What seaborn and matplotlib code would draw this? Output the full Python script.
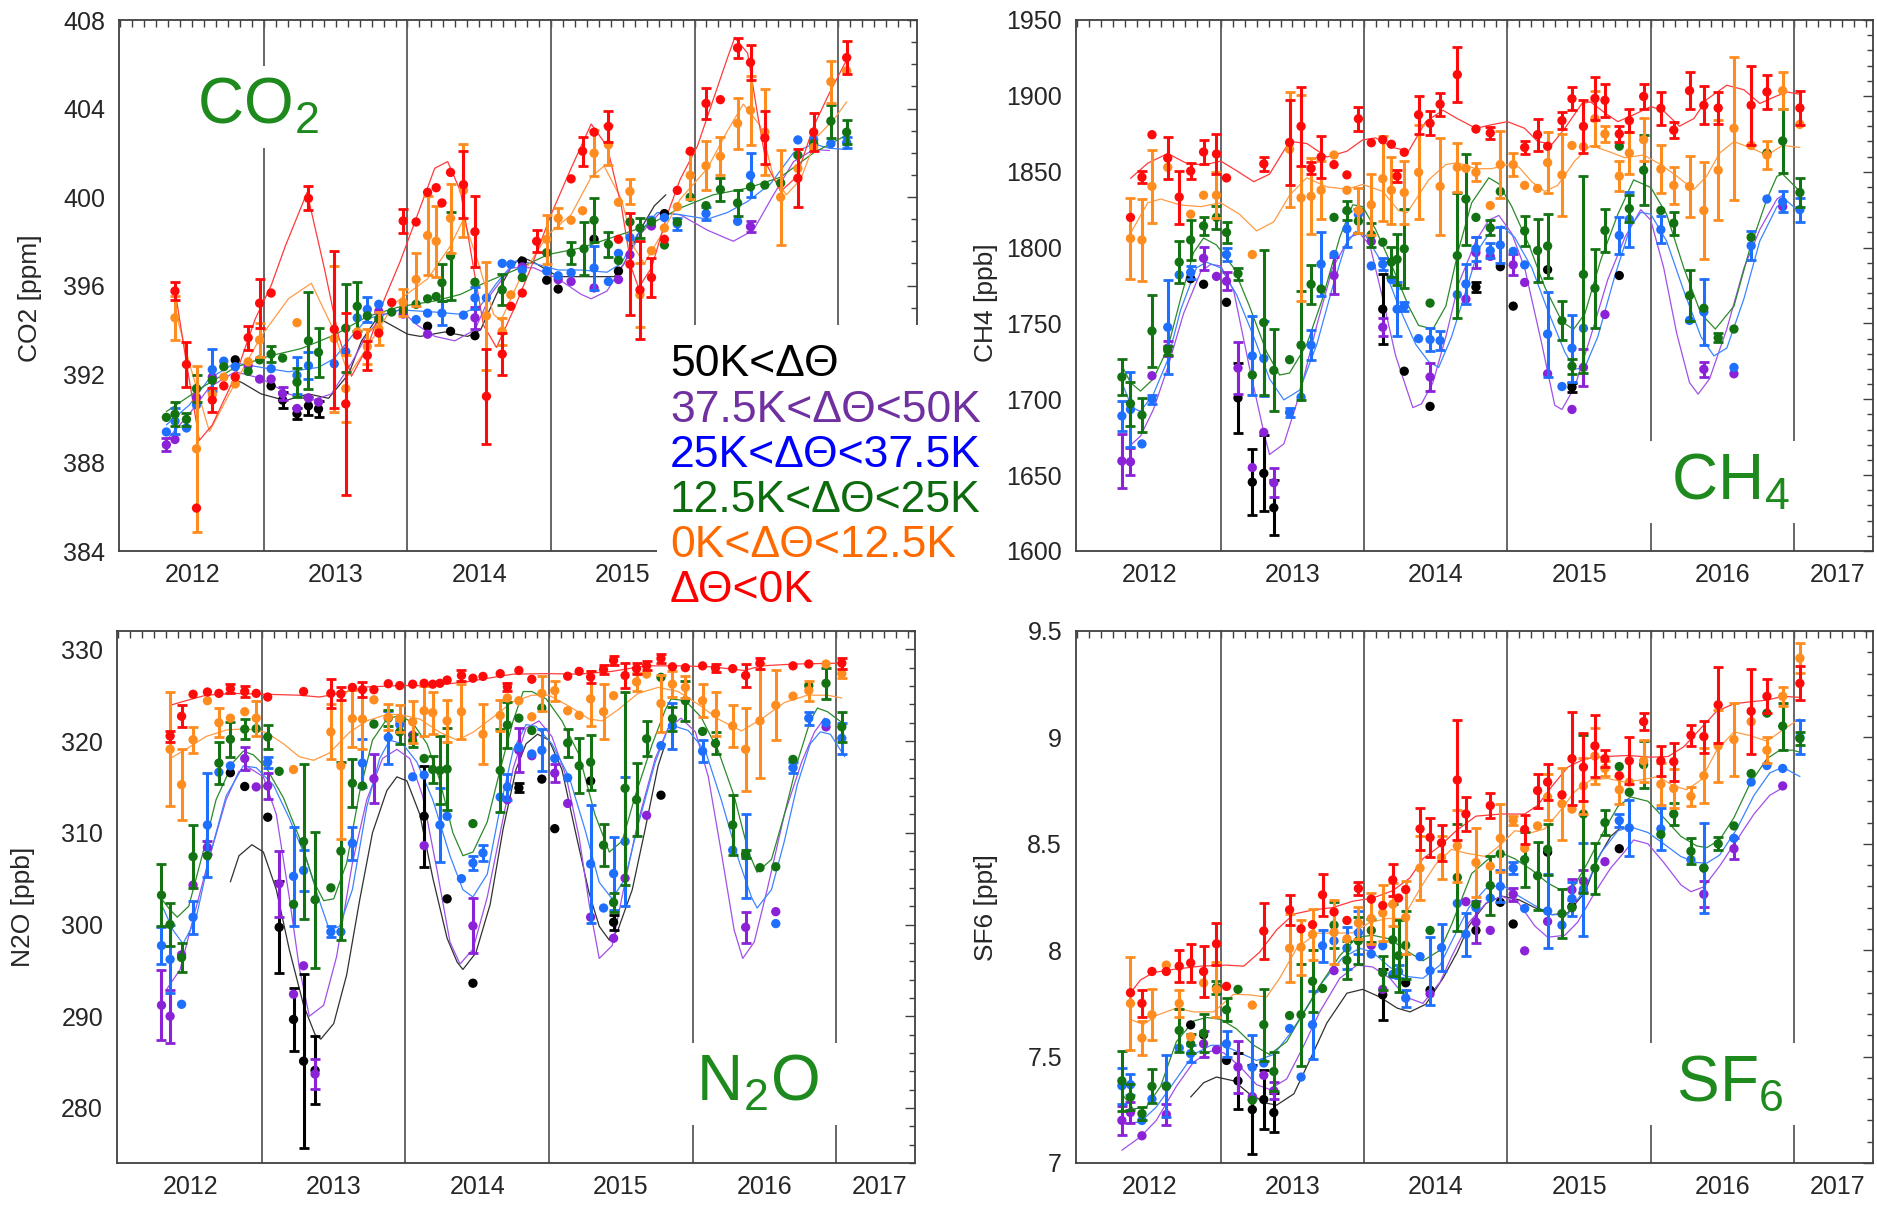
import numpy as np
import pandas as pd
import seaborn as sns
import matplotlib
matplotlib.use('Agg')
import matplotlib.pyplot as plt
from matplotlib.ticker import MultipleLocator, FuncFormatter
from matplotlib.patches import Rectangle

# points: (decimal year, value, error)  error 0 -> no bar
# fits: (decimal year, value)

# ---------------- CO2 [ppm]
co2_black = [(2012.30,392.64,0),(2012.55,391.46,0),(2012.63,390.82,0.35),(2012.73,390.21,0.25),(2012.81,390.56,0.4),
             (2012.88,390.42,0.35),(2013.64,394.16,0),(2013.80,393.93,0),(2013.97,393.73,0),(2014.30,397.10,0),
             (2014.47,396.24,0),(2014.55,395.84,0),(2014.80,398.09,0),(2014.97,396.65,0),(2015.29,399.25,0)]
co2_black_fit = [(2012.28,391.8),(2012.35,391.6),(2012.48,391.1),(2012.65,390.8),(2012.81,391.1),(2012.95,390.9),
                 (2013.09,392.0),(2013.18,393.5),(2013.29,394.55),(2013.39,394.2),(2013.50,393.8),(2013.59,393.7),
                 (2013.76,393.9),(2013.92,393.7),(2014.01,394.0),(2014.12,395.6),(2014.22,396.8),(2014.29,397.3),
                 (2014.38,397.05),(2014.55,396.4),(2014.68,396.4),(2014.80,396.4),(2014.94,396.4),(2015.01,397.0),
                 (2015.12,398.5),(2015.22,399.6),(2015.30,400.1)]
co2_purple = [(2011.82,388.8,0.3),(2011.88,389.04,0),(2012.03,390.94,0),(2012.14,391.86,0),(2012.39,392.38,0),
              (2012.47,391.77,0),(2012.55,391.77,0),(2012.63,391.11,0.3),(2012.73,390.44,0),(2012.81,390.91,0),
              (2012.88,390.73,0),(2013.30,394.83,0),(2013.47,394.71,0),(2013.64,393.80,0),(2013.97,394.54,0.5),
              (2014.30,396.84,0),(2014.55,396.27,0),(2014.64,396.18,0),(2014.80,395.89,0),(2014.97,396.27,0),
              (2015.05,397.39,0),(2015.20,398.69,0),(2015.89,398.66,0.25)]
co2_purple_fit = [(2011.82,389.0),(2011.98,390.2),(2012.12,391.4),(2012.30,392.1),(2012.48,391.8),(2012.67,391.1),
                  (2012.83,390.8),(2012.97,391.1),(2013.11,392.5),(2013.22,393.8),(2013.34,394.7),(2013.45,394.9),
                  (2013.57,394.2),(2013.69,393.7),(2013.83,393.5),(2013.97,394.0),(2014.08,395.6),(2014.22,396.8),
                  (2014.38,396.8),(2014.55,396.3),(2014.71,395.6),(2014.78,395.4),(2014.89,395.75),(2015.01,397.0),
                  (2015.12,398.3),(2015.26,399.3),(2015.40,399.2),(2015.59,398.5),(2015.77,398.0),(2015.91,398.5),
                  (2016.05,400.1),(2016.19,401.6),(2016.33,402.15),(2016.44,402.1)]
co2_blue = [(2011.82,389.38,0),(2011.88,389.87,0.6),(2011.96,389.56,0),(2012.03,390.60,0),(2012.14,392.20,0.95),
            (2012.22,392.58,0),(2012.30,392.33,0),(2012.55,392.24,0),(2012.73,391.94,0.85),(2012.81,392.38,0.6),
            (2012.99,392.46,0),(2013.07,393.01,0),(2013.15,394.54,0),(2013.22,394.92,0.55),(2013.30,395.15,0),
            (2013.56,394.46,0),(2013.64,394.75,0),(2013.74,394.75,0.55),(2013.89,394.66,0),(2013.97,395.44,0.5),
            (2014.05,395.44,0),(2014.16,397.0,0),(2014.22,396.96,0),(2014.30,396.70,0),(2014.47,396.65,0),
            (2014.55,396.44,0),(2014.64,396.58,0),(2014.80,396.79,1.0),(2014.90,396.18,0),(2014.97,397.45,0),
            (2015.05,398.17,0),(2015.20,398.95,0),(2015.29,399.07,0),(2015.38,398.78,0.25),(2015.58,399.25,0.3),
            (2015.80,398.90,0),(2015.89,400.98,1.0),(2016.22,402.58,0),(2016.33,402.58,0),(2016.45,402.41,0),
            (2016.56,402.46,0.25)]
co2_blue_fit = [(2011.82,389.7),(2011.98,390.6),(2012.12,391.8),(2012.30,392.5),(2012.48,392.3),(2012.67,392.1),
                (2012.88,392.3),(2012.99,392.7),(2013.11,393.7),(2013.22,394.5),(2013.45,394.9),(2013.69,394.8),
                (2013.87,394.7),(2014.01,395.1),(2014.12,396.1),(2014.25,397.1),(2014.38,397.0),(2014.55,396.7),
                (2014.71,396.7),(2014.89,396.6),(2014.99,397.0),(2015.10,398.3),(2015.24,399.3),(2015.40,399.2),
                (2015.59,399.0),(2015.73,399.3),(2015.87,399.8),(2016.03,400.6),(2016.19,402.0),(2016.33,402.4),
                (2016.44,402.2),(2016.56,402.15)]
co2_green = [(2011.82,390.04,0),(2011.88,390.18,0.55),(2011.96,389.95,0.3),(2012.03,391.34,0.6),(2012.14,391.72,0),
             (2012.22,392.33,0),(2012.39,392.12,0),(2012.47,392.64,0),(2012.55,392.90,0.35),(2012.63,392.72,0),
             (2012.73,391.63,0.65),(2012.81,393.50,2.2),(2012.88,392.98,1.1),(2013.07,394.07,2.0),(2013.15,395.06,1.1),
             (2013.22,394.63,0),(2013.30,394.49,0),(2013.39,394.80,0),(2013.47,394.89,0),(2013.56,395.15,0),
             (2013.64,395.40,0),(2013.70,395.50,0),(2013.74,396.13,0.85),(2013.80,397.34,2.0),(2013.97,396.15,0),
             (2014.16,395.80,0.7),(2014.30,396.36,0),(2014.47,397.48,0),(2014.64,397.48,0.5),(2014.73,397.66,1.2),
             (2014.80,398.95,1.0),(2014.90,397.86,0.55),(2014.97,397.13,0),(2015.05,398.87,0),(2015.12,398.60,0.45),
             (2015.20,398.87,0),(2015.29,397.83,0),(2015.38,398.87,0),(2015.47,399.99,0),(2015.58,399.61,0),
             (2015.68,400.34,0.5),(2015.80,399.73,0.6),(2015.89,400.46,0),(2015.99,400.54,0),(2016.10,400.63,0),
             (2016.22,401.89,0),(2016.33,402.41,0),(2016.45,403.43,0.75),(2016.56,402.93,0.55)]
co2_green_fit = [(2011.82,390.3),(2012.07,391.4),(2012.30,392.3),(2012.53,392.8),(2012.76,393.15),(2012.99,393.76),
                 (2013.22,394.6),(2013.45,395.05),(2013.69,395.3),(2013.87,395.6),(2014.03,396.1),(2014.25,396.7),
                 (2014.48,397.4),(2014.71,397.7),(2014.94,398.2),(2015.17,398.7),(2015.40,399.5),(2015.63,400.1),
                 (2015.87,400.4),(2016.10,400.9),(2016.33,402.0),(2016.56,402.8)]
co2_orange = [(2011.88,394.54,1.0),(2012.03,388.62,3.75),(2012.14,391.08,0),(2012.22,391.86,0),(2012.30,391.55,0),
              (2012.39,392.55,0),(2012.47,393.54,0.75),(2012.73,394.32,0),(2012.99,393.60,3.3),(2013.07,391.34,1.5),
              (2013.15,393.90,0),(2013.22,393.24,0.8),(2013.30,394.05,0.75),(2013.47,395.23,0.6),(2013.56,396.27,1.2),
              (2013.64,398.26,1.8),(2013.70,398.00,1.6),(2013.80,399.04,1.55),(2013.89,400.30,2.1),(2014.05,394.63,2.45),
              (2014.16,393.93,0.6),(2014.22,395.58,0),(2014.47,398.09,1.1),(2014.55,399.04,0.45),(2014.64,398.95,0),
              (2014.72,399.38,0),(2014.80,401.98,1.05),(2014.90,402.36,0.9),(2014.97,399.76,0),(2015.05,400.25,0.55),
              (2015.12,395.58,1.45),(2015.20,397.57,0),(2015.29,398.60,0),(2015.38,399.56,0),(2015.47,400.98,1.05),
              (2015.58,401.41,1.1),(2015.68,401.84,0.85),(2015.80,403.33,1.15),(2015.89,403.92,1.55),(2015.99,402.93,1.95),
              (2016.10,399.99,2.15),(2016.22,401.29,0),(2016.33,402.24,0),(2016.45,405.21,0.95),(2016.56,405.70,0)]
co2_orange_fit = [(2011.88,394.9),(2011.98,392.5),(2012.12,389.4),(2012.30,391.6),(2012.48,393.7),(2012.67,395.4),
                  (2012.83,396.1),(2012.97,394.2),(2013.09,391.95),(2013.22,393.2),(2013.41,395.2),(2013.64,396.3),
                  (2013.80,397.8),(2013.89,399.0),(2013.99,397.1),(2014.10,394.7),(2014.15,394.4),(2014.29,396.4),
                  (2014.48,398.3),(2014.64,399.2),(2014.78,400.9),(2014.87,401.4),(2014.99,399.9),(2015.08,397.7),
                  (2015.15,397.0),(2015.26,398.2),(2015.40,399.9),(2015.59,401.3),(2015.73,403.0),(2015.84,404.2),
                  (2015.96,403.2),(2016.05,400.9),(2016.14,400.1),(2016.24,400.8),(2016.35,402.7),(2016.47,403.5),
                  (2016.56,404.3)]
co2_red = [(2011.88,395.75,0.4),(2011.96,392.43,1.0),(2012.03,385.94,0),(2012.14,390.82,0.55),(2012.22,391.46,0),
           (2012.30,391.86,0),(2012.39,393.64,0.55),(2012.47,395.20,1.1),(2012.55,395.66,0),(2012.81,399.94,0.55),
           (2012.99,394.02,3.55),(2013.07,390.65,4.1),(2013.15,393.76,0),(2013.22,392.84,0.65),(2013.30,393.85,0),
           (2013.39,395.23,0),(2013.47,398.92,0.55),(2013.56,398.87,0),(2013.64,400.21,0),(2013.70,400.42,0),
           (2013.74,399.73,0),(2013.80,401.11,0),(2013.89,400.56,1.5),(2013.97,398.43,1.6),(2014.05,390.99,2.15),
           (2014.16,392.90,0.95),(2014.22,395.06,0),(2014.30,395.66,0),(2014.40,398.00,0.5),(2014.64,400.82,0),
           (2014.72,402.07,0.65),(2014.80,402.93,0),(2014.90,403.19,0.7),(2014.97,398.09,0),(2015.05,396.96,2.3),
           (2015.12,395.80,2.2),(2015.20,396.36,0.9),(2015.29,398.09,0),(2015.38,400.30,0),(2015.47,402.07,0),
           (2015.58,404.23,0.7),(2015.68,404.40,0),(2015.80,406.74,0.45),(2015.89,406.08,0.8),(2015.99,402.67,1.2),
           (2016.22,400.85,1.3),(2016.33,402.93,0.85),(2016.56,406.30,0.75)]
co2_red_fit = [(2011.88,395.8),(2011.96,392.5),(2012.05,389.0),(2012.14,389.7),(2012.30,391.9),(2012.44,394.5),
               (2012.55,396.0),(2012.65,397.8),(2012.80,400.2),(2012.92,396.8),(2013.02,393.7),(2013.11,391.9),
               (2013.22,393.2),(2013.34,395.4),(2013.45,397.1),(2013.57,399.2),(2013.69,401.3),(2013.78,401.6),
               (2013.87,400.25),(2013.96,396.8),(2014.03,394.2),(2014.12,393.2),(2014.25,395.06),(2014.36,396.8),
               (2014.50,399.2),(2014.64,401.3),(2014.78,403.3),(2014.89,402.3),(2014.99,399.6),(2015.06,396.8),
               (2015.11,395.9),(2015.20,396.8),(2015.31,399.2),(2015.40,400.8),(2015.52,402.3),(2015.63,404.4),
               (2015.73,406.3),(2015.78,407.2),(2015.87,406.5),(2015.94,403.7),(2016.00,401.5),(2016.10,400.25),
               (2016.21,400.9),(2016.33,403.2),(2016.44,404.7),(2016.56,406.2)]

# ---------------- CH4 [ppb]
ch4_black = [(2012.29,1779.5,0),(2012.38,1775.8,0),(2012.54,1763.9,0),(2012.62,1700.9,23),(2012.72,1645.4,22),
             (2012.80,1651.2,25),(2012.87,1628.5,18),(2013.63,1759.4,23),(2013.78,1718.5,0),(2013.96,1695.3,0),
             (2014.28,1774.0,3),(2014.45,1787.4,0),(2014.54,1761.4,0),(2014.78,1785.4,0),(2014.95,1708.0,3),
             (2015.28,1781.6,0)]
ch4_black_fit = []
ch4_purple = [(2011.81,1659.3,18),(2011.87,1658.8,9),(2012.02,1715.5,0),(2012.13,1733.7,5),(2012.38,1793.0,7.5),
              (2012.47,1781.0,0),(2012.54,1777.8,6),(2012.62,1720.6,17),(2012.72,1655.0,0),(2012.80,1678.2,0),
              (2012.87,1645.0,9.5),(2013.29,1781.6,12),(2013.55,1804.0,0),(2013.63,1747.5,6),(2013.96,1714.7,9),
              (2014.21,1766.0,0),(2014.28,1796.7,10),(2014.38,1794.2,0),(2014.54,1788.6,7),(2014.62,1777.0,0),
              (2014.78,1716.8,0),(2014.95,1693.3,0),(2015.03,1721.0,12),(2015.18,1755.9,0),(2015.87,1719.8,5),
              (2016.08,1716.8,0),(2016.42,1827.0,0)]
ch4_purple_fit = [(2011.85,1668),(2011.94,1675.7),(2012.03,1693.3),(2012.13,1721),(2012.24,1756.4),(2012.36,1784),
                  (2012.43,1789),(2012.50,1787.9),(2012.59,1771.5),(2012.70,1721),(2012.80,1678.2),(2012.84,1663.6),
                  (2012.94,1670.6),(2013.05,1703.4),(2013.17,1748.8),(2013.28,1786.6),(2013.40,1806.8),(2013.47,1809.3),
                  (2013.54,1801.7),(2013.63,1766.4),(2013.72,1728.6),(2013.84,1694.5),(2013.90,1697),(2013.98,1711),
                  (2014.07,1741.2),(2014.16,1776.5),(2014.28,1804.3),(2014.37,1818.1),(2014.44,1821.2),(2014.53,1809.3),
                  (2014.62,1786.6),(2014.74,1736.2),(2014.83,1696),(2014.88,1693.3),(2014.97,1708.4),(2015.08,1741.2),
                  (2015.20,1779),(2015.32,1806.8),(2015.43,1825),(2015.50,1818),(2015.59,1786.6),(2015.68,1743.7),
                  (2015.77,1711),(2015.83,1703.4),(2015.91,1713.5),(2016.03,1746.3),(2016.15,1786.6),(2016.26,1811.8),
                  (2016.38,1832),(2016.42,1834.5)]
ch4_blue = [(2011.81,1689.0,10),(2011.87,1693.3,25),(2011.95,1670.6,0),(2012.02,1700.1,3),(2012.13,1747.5,31),
            (2012.21,1782.0,0),(2012.29,1783.6,4),(2012.54,1795.4,4),(2012.72,1728.6,26),(2012.80,1726.9,25),
            (2012.98,1691.3,3),(2013.06,1701.4,0),(2013.13,1735.7,10),(2013.20,1789.1,21),(2013.29,1795.4,0),
            (2013.38,1812.3,12),(2013.46,1821.9,0),(2013.55,1787.9,0),(2013.63,1789.1,4),(2013.69,1779.0,0),
            (2013.73,1759.4,18),(2013.78,1761.4,3),(2013.88,1740.0,0),(2013.96,1739.4,7.5),(2014.03,1738.7,6),
            (2014.15,1769.0,0),(2014.21,1776.0,13),(2014.28,1799.2,8),(2014.38,1798.0,5),(2014.45,1801.7,12),
            (2014.54,1797.5,0),(2014.62,1788.6,0),(2014.78,1743.0,28),(2014.88,1708.4,0),(2014.95,1733.7,22),
            (2015.03,1746.8,0),(2015.28,1808.0,12),(2015.35,1818.6,18),(2015.57,1811.8,9),(2015.77,1752.0,0),
            (2015.87,1757.6,22),(2016.08,1721.0,0),(2016.20,1801.2,9.5),(2016.31,1832.0,0),(2016.42,1830.2,7),
            (2016.54,1825.0,8)]
ch4_blue_fit = [(2011.81,1711),(2011.88,1694.6),(2011.94,1692),(2012.03,1703.4),(2012.13,1726),(2012.22,1759),
                (2012.33,1786.6),(2012.40,1790.4),(2012.50,1786.6),(2012.61,1769),(2012.73,1741.2),(2012.84,1713.5),
                (2012.94,1699.6),(2013.05,1706),(2013.17,1736.2),(2013.28,1774),(2013.37,1801.7),(2013.44,1810.6),
                (2013.51,1808),(2013.63,1789.1),(2013.74,1761.4),(2013.86,1736.2),(2013.95,1724.8),(2014.02,1721),
                (2014.11,1741.2),(2014.21,1771.5),(2014.30,1799.2),(2014.39,1811.8),(2014.46,1814.3),(2014.55,1806.8),
                (2014.67,1786.6),(2014.78,1758.9),(2014.90,1731.1),(2014.97,1719.8),(2015.04,1721),(2015.13,1741.2),
                (2015.25,1781.6),(2015.36,1814.3),(2015.43,1823.2),(2015.50,1822),(2015.61,1804.3),(2015.73,1771.5),
                (2015.85,1741.2),(2015.94,1728.6),(2016.03,1733.7),(2016.15,1766.4),(2016.26,1804.3),(2016.38,1827),
                (2016.45,1830.7),(2016.54,1823.2)]
ch4_green = [(2011.81,1714.7,12),(2011.87,1697.1,14.5),(2011.95,1689.6,11),(2012.02,1745.0,24),(2012.13,1732.4,3),
             (2012.21,1790.4,14),(2012.29,1805.0,13),(2012.38,1814.3,6),(2012.47,1819.9,7.5),(2012.54,1810.0,7),
             (2012.62,1782.8,4),(2012.72,1716.0,0),(2012.80,1750.6,48),(2012.87,1719.0,27),(2012.98,1726.1,0),
             (2013.06,1735.7,36),(2013.13,1775.8,13),(2013.20,1772.7,0),(2013.29,1819.9,0),(2013.38,1824.4,6),
             (2013.46,1817.4,8),(2013.55,1808.5,8),(2013.63,1803.5,0),(2013.69,1790.4,10),(2013.73,1792.2,17),
             (2013.78,1799.2,26),(2013.96,1763.4,0),(2014.15,1794.7,41),(2014.21,1832.0,30),(2014.28,1819.9,0),
             (2014.38,1813.0,5),(2014.45,1837.0,0),(2014.62,1811.0,10),(2014.71,1798.0,21),(2014.78,1801.0,21),
             (2014.88,1751.8,13),(2014.95,1721.8,5),(2015.03,1782.3,65),(2015.11,1773.2,26),(2015.18,1811.3,14),
             (2015.28,1866.8,0),(2015.35,1825.7,9),(2015.45,1851.0,23),(2015.57,1824.4,0),(2015.66,1816.1,7.5),
             (2015.77,1768.4,17),(2015.87,1760.0,0),(2015.97,1740.5,3),(2016.08,1746.3,0),(2016.20,1806.8,0),
             (2016.31,1862.3,0),(2016.42,1870.3,21),(2016.54,1836.3,9.5)]
ch4_green_fit = [(2011.81,1722.3),(2011.87,1711),(2011.94,1705.4),(2012.03,1713.5),(2012.13,1733.7),(2012.22,1766.4),
                 (2012.31,1796.7),(2012.38,1806.3),(2012.47,1801.7),(2012.59,1786.6),(2012.70,1761.4),(2012.82,1731.1),
                 (2012.91,1716),(2012.98,1717.3),(2013.10,1736.2),(2013.21,1766.4),(2013.33,1806.8),(2013.42,1828.2),
                 (2013.49,1827),(2013.58,1812),(2013.70,1786.6),(2013.81,1761.4),(2013.88,1748.7),(2013.98,1746.3),
                 (2014.07,1761.4),(2014.16,1799),(2014.25,1829.5),(2014.37,1846),(2014.44,1842),(2014.53,1827),
                 (2014.65,1801.7),(2014.76,1774),(2014.88,1751.3),(2014.96,1746),(2015.04,1756.4),(2015.15,1791.6),
                 (2015.27,1822),(2015.38,1844.6),(2015.50,1839.6),(2015.61,1822),(2015.73,1786.6),(2015.85,1756.4),
                 (2015.95,1746.3),(2016.08,1761.4),(2016.19,1799),(2016.31,1832),(2016.38,1847),(2016.42,1848.4),
                 (2016.54,1837)]
ch4_orange = [(2011.87,1806.0,27),(2011.95,1805.0,27),(2012.02,1840.3,24),(2012.13,1852.9,0),(2012.29,1822.0,0),
              (2012.38,1834.5,0),(2012.47,1834.5,15),(2012.72,1795.4,0),(2012.98,1864.8,38),(2013.06,1832.8,68),
              (2013.13,1833.8,25),(2013.20,1837.8,19),(2013.29,1861.0,0),(2013.38,1837.8,0),(2013.46,1824.4,15),
              (2013.55,1828.2,20),(2013.63,1845.4,28),(2013.69,1837.8,22),(2013.78,1836.3,21),(2013.88,1849.6,31),
              (2014.03,1840.3,32),(2014.15,1852.9,16),(2014.21,1852.2,0),(2014.28,1849.6,6),(2014.38,1827.7,0),
              (2014.45,1854.7,22),(2014.54,1854.7,7.5),(2014.62,1841.0,0),(2014.71,1839.0,0),(2014.78,1856.0,20),
              (2014.88,1847.9,27),(2014.95,1867.3,0),(2015.03,1866.5,0),(2015.11,1885.0,18),(2015.18,1874.9,5),
              (2015.28,1847.1,10),(2015.35,1862.3,14),(2015.45,1871.1,14),(2015.57,1851.7,16),(2015.66,1841.0,12),
              (2015.77,1840.3,20),(2015.87,1824.4,32),(2015.97,1851.0,33),(2016.08,1878.6,47),(2016.20,1867.3,0),
              (2016.31,1861.0,9),(2016.42,1903.4,12),(2016.54,1881.2,0)]
ch4_orange_fit = [(2011.87,1809.3),(2011.99,1829.5),(2012.08,1832),(2012.22,1828),(2012.36,1827),(2012.50,1829.5),
                  (2012.63,1822),(2012.75,1811),(2012.87,1817),(2012.98,1834.5),(2013.10,1846),(2013.24,1840),
                  (2013.38,1838.5),(2013.49,1841.6),(2013.63,1837),(2013.74,1824.4),(2013.80,1823),(2013.88,1834.5),
                  (2013.95,1844.6),(2014.07,1854.7),(2014.15,1856),(2014.28,1852),(2014.39,1852),(2014.50,1854.7),
                  (2014.58,1853),(2014.67,1843.3),(2014.76,1837),(2014.85,1841),(2014.97,1857.2),(2015.08,1867.3),
                  (2015.20,1863.5),(2015.32,1859.2),(2015.45,1861),(2015.57,1854.7),(2015.68,1847.1),(2015.80,1838.3),
                  (2015.89,1847.1),(2015.98,1862.3),(2016.08,1869.8),(2016.19,1866),(2016.31,1861),(2016.42,1867.3),
                  (2016.54,1866)]
ch4_red = [(2011.87,1819.9,0),(2011.95,1846.4,4),(2012.02,1874.4,0),(2012.13,1859.0,14),(2012.21,1833.3,17.5),
           (2012.29,1850.4,5.5),(2012.38,1863.0,8),(2012.47,1861.7,13),(2012.54,1845.9,0),(2012.80,1855.2,4.5),
           (2012.98,1869.3,28),(2013.06,1879.9,26),(2013.13,1852.2,4),(2013.20,1859.7,14),(2013.29,1854.7,0),
           (2013.38,1847.9,0),(2013.46,1884.9,8),(2013.55,1869.1,0),(2013.63,1871.1,0),(2013.69,1868.1,0),
           (2013.73,1847.1,4),(2013.78,1862.8,0),(2013.88,1887.5,12.5),(2013.96,1881.9,8),(2014.03,1894.5,7.5),
           (2014.15,1914.0,18),(2014.28,1878.1,0),(2014.38,1875.6,4),(2014.62,1866.0,4),(2014.71,1874.4,10.5),
           (2014.78,1866.8,0),(2014.88,1883.7,5.5),(2014.95,1898.1,7.5),(2015.03,1879.9,17.5),(2015.11,1898.3,14),
           (2015.18,1897.1,11),(2015.28,1874.9,5),(2015.35,1883.7,7.5),(2015.45,1899.6,8),(2015.57,1891.8,11),
           (2015.66,1877.4,5.5),(2015.77,1903.4,12),(2015.87,1893.8,12.5),(2015.97,1892.0,10.5),(2016.20,1893.8,26),
           (2016.31,1902.6,11),(2016.54,1892.0,11)]
ch4_red_fit = [(2011.87,1845.6),(2011.99,1855.6),(2012.13,1862),(2012.26,1855.6),(2012.38,1854.4),(2012.50,1857),
               (2012.61,1850.7),(2012.73,1843.4),(2012.84,1848.4),(2012.98,1870),(2013.10,1868.6),(2013.24,1859.7),
               (2013.38,1863.5),(2013.49,1871),(2013.58,1872.3),(2013.70,1866),(2013.81,1863.5),(2013.93,1883),
               (2014.05,1890.5),(2014.15,1885),(2014.28,1878.6),(2014.39,1881),(2014.50,1883),(2014.62,1878.6),
               (2014.71,1870),(2014.81,1868),(2014.90,1878.6),(2015.02,1895),(2015.08,1896),(2015.18,1888.7),
               (2015.27,1883),(2015.38,1887.5),(2015.50,1893),(2015.59,1890),(2015.70,1880),(2015.80,1885),
               (2015.89,1897.6),(2016.03,1907),(2016.15,1904),(2016.26,1895),(2016.38,1900),(2016.45,1902.6),
               (2016.54,1901)]

# ---------------- N2O [ppb]
n2o_black = [(2012.28,316.55,0),(2012.38,315.05,0),(2012.54,311.70,0),(2012.62,299.70,5.0),(2012.72,289.65,3.4),
             (2012.79,285.10,9.5),(2012.87,284.10,3.7),(2013.63,311.80,5.5),(2013.79,302.80,0),(2013.97,293.60,0),
             (2014.29,314.90,0.5),(2014.45,315.85,0),(2014.54,310.45,0),(2014.79,315.65,0),(2014.95,300.25,0.8),
             (2015.28,314.10,0)]
n2o_black_fit = [(2012.28,304.65),(2012.34,307.5),(2012.43,308.7),(2012.51,307.9),(2012.60,303.8),(2012.69,297.3),
                 (2012.79,291.2),(2012.87,288.0),(2012.91,287.5),(2013.00,289.2),(2013.09,294.5),(2013.18,302.6),
                 (2013.27,310.0),(2013.37,314.6),(2013.44,316.1),(2013.51,315.65),(2013.60,312.0),(2013.69,305.1),
                 (2013.79,298.5),(2013.86,295.9),(2013.90,295.1),(2013.99,296.9),(2014.09,302.2),(2014.18,310.4),
                 (2014.27,316.9),(2014.34,319.7),(2014.42,320.75),(2014.50,320.1),(2014.59,316.9),(2014.68,310.4),
                 (2014.78,303.4),(2014.85,299.8),(2014.92,298.3),(2014.98,299.4),(2015.08,303.8),(2015.17,310.4),
                 (2015.26,317.3),(2015.31,319.7)]
n2o_purple = [(2011.80,291.2,3.8),(2011.86,290.0,2.9),(2011.94,296.7,0),(2012.02,304.3,0),(2012.12,308.4,0.7),
              (2012.38,318.1,1.3),(2012.46,315.0,0),(2012.54,315.1,1.4),(2012.62,304.45,3.6),(2012.72,292.4,0),
              (2012.79,295.5,0),(2012.87,283.7,1.6),(2013.28,315.9,2.7),(2013.55,320.65,0),(2013.63,308.6,0),
              (2013.97,299.85,3.0),(2014.21,313.6,0),(2014.29,319.0,2.4),(2014.38,318.4,0),(2014.54,316.5,1.0),
              (2014.63,313.2,0),(2014.79,300.8,0),(2014.95,298.5,0),(2015.03,305.05,0),(2015.18,311.9,0),
              (2015.87,299.7,1.7),(2016.08,301.4,0),(2016.43,321.55,0)]
n2o_purple_fit = [(2011.83,292.8),(2011.93,295.1),(2012.02,300.6),(2012.13,307.1),(2012.25,313.6),(2012.34,316.7),
                  (2012.41,317.1),(2012.51,316.1),(2012.60,312.0),(2012.69,303.0),(2012.76,295.3),(2012.83,290.0),
                  (2012.93,291.2),(2013.02,296.5),(2013.13,306.7),(2013.23,313.6),(2013.34,318.1),(2013.44,319.1),
                  (2013.53,318.1),(2013.62,314.0),(2013.72,305.9),(2013.81,298.1),(2013.88,295.7),(2013.97,297.3),
                  (2014.07,303.0),(2014.16,310.0),(2014.25,317.0),(2014.34,321.4),(2014.43,322.2),(2014.52,320.5),
                  (2014.62,316.1),(2014.71,309.5),(2014.78,302.2),(2014.85,296.3),(2014.94,297.7),(2015.03,304.65),
                  (2015.12,311.2),(2015.24,318.1),(2015.33,321.4),(2015.42,322.5),(2015.52,321.0),(2015.61,316.1),
                  (2015.70,307.9),(2015.79,299.4),(2015.85,296.3),(2015.93,298.1),(2016.02,303.8),(2016.14,312.0),
                  (2016.26,317.7),(2016.35,321.0),(2016.42,322.5)]
n2o_blue = [(2011.80,297.7,2.0),(2011.86,296.2,3.7),(2011.94,291.3,0),(2012.02,300.8,1.8),(2012.12,310.85,5.7),
            (2012.20,316.6,0),(2012.28,317.3,0),(2012.54,317.7,0.6),(2012.72,305.25,5.4),(2012.79,305.9,2.2),
            (2012.98,299.2,0.6),(2013.05,299.2,0),(2013.13,308.85,1.8),(2013.20,317.6,2.6),(2013.38,320.4,2.9),
            (2013.46,321.8,0),(2013.55,316.1,0),(2013.63,316.3,0),(2013.74,310.85,4.0),(2013.79,311.8,0),
            (2013.89,305.0,0),(2013.97,306.7,0.8),(2014.04,307.8,0.9),(2014.16,313.9,0),(2014.21,315.0,1.4),
            (2014.29,319.3,0),(2014.38,318.6,0),(2014.45,319.0,2.3),(2014.54,318.1,0),(2014.63,316.0,0),
            (2014.79,306.6,6.4),(2014.88,301.8,0),(2014.95,305.55,4.0),(2015.03,309.05,7.0),(2015.28,319.5,0),
            (2015.36,321.65,2.5),(2015.57,318.9,1.2),(2015.78,308.1,0),(2015.87,307.5,4.6),(2016.08,300.1,0),
            (2016.20,317.1,0.6),(2016.31,322.5,0.7),(2016.43,322.0,0),(2016.54,320.3,1.7)]
n2o_blue_fit = [(2011.80,302.2),(2011.88,299.4),(2011.95,297.9),(2012.04,300.6),(2012.13,307.1),(2012.25,314.0),
                (2012.37,317.3),(2012.46,317.1),(2012.58,315.2),(2012.69,311.6),(2012.81,307.1),(2012.90,302.6),
                (2012.97,299.4),(2013.04,299.8),(2013.13,303.8),(2013.23,312.8),(2013.32,318.1),(2013.39,320.1),
                (2013.48,319.7),(2013.58,317.7),(2013.69,313.6),(2013.81,307.5),(2013.90,303.8),(2013.97,303.0),
                (2014.07,305.5),(2014.16,312.8),(2014.25,319.0),(2014.34,321.8),(2014.41,321.6),(2014.52,319.7),
                (2014.64,316.1),(2014.75,310.4),(2014.85,304.6),(2014.94,302.8),(2015.03,305.0),(2015.12,310.8),
                (2015.24,317.7),(2015.33,321.4),(2015.38,321.6),(2015.47,321.15),(2015.59,318.9),(2015.70,313.6),
                (2015.82,307.1),(2015.91,303.0),(2015.95,301.8),(2016.05,303.8),(2016.14,309.1),(2016.23,315.25),
                (2016.32,319.7),(2016.39,321.0),(2016.46,320.75),(2016.56,318.3)]
n2o_green = [(2011.80,303.2,3.4),(2011.86,300.0,2.3),(2011.94,296.4,1.6),(2012.02,307.4,3.4),(2012.12,307.5,0),
             (2012.20,317.6,2.3),(2012.28,320.2,1.9),(2012.38,321.3,1.1),(2012.46,321.35,0),(2012.54,320.45,1.3),
             (2012.62,316.7,0),(2012.72,302.2,0),(2012.79,309.05,8.5),(2012.87,302.7,7.4),(2012.98,304.0,0),
             (2013.05,308.0,9.7),(2013.13,315.4,2.6),(2013.20,315.1,0),(2013.28,321.85,0),(2013.38,322.5,0.9),
             (2013.46,321.0,1.3),(2013.55,320.05,0.7),(2013.63,318.1,0),(2013.69,316.9,1.5),(2013.74,316.8,3.7),
             (2013.79,316.95,4.5),(2013.97,311.0,0),(2014.16,316.8,4.5),(2014.21,321.75,2.5),(2014.29,322.5,0),
             (2014.38,321.15,0),(2014.45,323.6,0),(2014.63,319.8,1.5),(2014.71,317.3,3.0),(2014.79,317.7,3.0),
             (2014.88,308.65,2.3),(2014.95,302.4,1.0),(2015.03,314.85,10.5),(2015.11,313.6,4.0),(2015.18,320.25,1.9),
             (2015.28,326.95,0),(2015.36,322.45,1.3),(2015.45,324.4,2.2),(2015.57,321.05,0),(2015.66,319.75,1.2),
             (2015.78,310.85,3.3),(2015.87,307.7,0.4),(2015.97,306.2,0),(2016.08,306.3,0),(2016.20,318.0,0),
             (2016.31,326.05,0),(2016.43,326.3,1.7),(2016.54,321.55,1.6)]
n2o_green_fit = [(2011.80,302.8),(2011.86,301.6),(2011.91,300.8),(2011.99,302.0),(2012.09,307.9),(2012.18,313.6),
                 (2012.30,317.7),(2012.37,318.9),(2012.44,318.5),(2012.53,317.1),(2012.65,313.8),(2012.76,309.5),
                 (2012.86,304.7),(2012.93,302.6),(2013.00,302.8),(2013.09,306.7),(2013.18,314.4),(2013.27,320.1),
                 (2013.37,322.4),(2013.46,322.8),(2013.55,322.0),(2013.65,319.7),(2013.74,315.65),(2013.83,310.0),
                 (2013.90,307.5),(2013.97,307.9),(2014.07,311.2),(2014.16,316.9),(2014.25,322.2),(2014.32,325.4),
                 (2014.38,325.4),(2014.48,324.6),(2014.59,322.2),(2014.71,318.5),(2014.82,312.0),(2014.92,307.9),
                 (2015.01,309.1),(2015.10,314.0),(2015.22,319.7),(2015.31,323.4),(2015.35,324.6),(2015.45,324.4),
                 (2015.56,322.6),(2015.68,318.9),(2015.79,314.0),(2015.89,307.9),(2015.95,305.7),(2016.05,307.1),
                 (2016.14,312.0),(2016.23,317.7),(2016.32,322.2),(2016.37,323.6),(2016.44,323.2),(2016.56,321.8)]
n2o_orange = [(2011.86,319.1,6.2),(2011.94,315.25,3.9),(2012.02,320.15,1.4),(2012.12,324.4,0),(2012.20,322.0,1.6),
              (2012.28,322.5,0),(2012.38,323.2,0),(2012.46,322.5,1.9),(2012.72,316.9,0),(2012.98,321.0,3.0),
              (2013.05,317.3,8.0),(2013.13,322.45,3.1),(2013.20,322.4,3.3),(2013.28,324.5,0),(2013.38,322.6,1.4),
              (2013.46,322.45,1.5),(2013.55,322.1,2.3),(2013.63,323.3,2.7),(2013.69,323.1,2.3),(2013.79,322.2,2.3),
              (2013.89,323.2,3.0),(2014.04,320.75,3.3),(2014.16,322.8,1.7),(2014.21,324.7,0),(2014.29,324.4,0),
              (2014.38,322.65,0),(2014.45,325.2,1.9),(2014.54,325.5,1.1),(2014.63,323.3,0),(2014.71,322.8,0),
              (2014.79,324.6,3.0),(2014.88,323.2,3.0),(2014.95,324.95,0),(2015.11,326.45,1.0),(2015.18,327.3,0),
              (2015.28,324.1,3.1),(2015.36,326.2,1.4),(2015.45,325.85,1.2),(2015.57,324.4,1.8),(2015.66,323.0,2.4),
              (2015.78,321.65,2.3),(2015.87,319.1,4.5),(2015.97,322.2,6.2),(2016.08,323.9,3.8),(2016.20,324.9,0),
              (2016.31,325.5,1.1),(2016.43,328.4,0),(2016.54,327.35,0.5)]
n2o_orange_fit = [(2011.86,318.1),(2011.97,319.1),(2012.11,320.5),(2012.25,321.2),(2012.39,321.35),(2012.53,320.95),
                  (2012.65,319.7),(2012.76,318.3),(2012.86,317.9),(2012.97,318.7),(2013.11,320.95),(2013.23,322.2),
                  (2013.37,322.9),(2013.46,322.9),(2013.60,322.4),(2013.74,320.95),(2013.86,320.1),(2013.97,320.95),
                  (2014.11,322.6),(2014.25,324.3),(2014.38,325.0),(2014.50,325.0),(2014.64,323.8),(2014.78,322.4),
                  (2014.87,322.2),(2014.98,323.4),(2015.12,325.2),(2015.26,325.85),(2015.40,325.4),(2015.54,324.0),
                  (2015.68,322.4),(2015.84,321.1),(2015.98,322.4),(2016.14,324.2),(2016.30,325.0),(2016.44,325.0),
                  (2016.54,324.7)]
n2o_red = [(2011.86,320.55,0.6),(2011.94,322.7,1.2),(2012.02,325.1,0),(2012.12,325.35,0),(2012.20,325.2,0),
           (2012.28,325.7,0.5),(2012.38,325.4,0.6),(2012.46,325.2,0),(2012.54,324.8,0),(2012.79,325.4,0),
           (2012.98,325.2,1.6),(2013.05,325.15,0.7),(2013.13,325.85,0),(2013.20,325.6,0.8),(2013.28,325.6,0),
           (2013.38,326.25,0),(2013.46,326.05,0),(2013.55,326.2,0),(2013.63,326.3,0),(2013.69,326.2,0),
           (2013.74,326.3,0),(2013.79,326.65,0),(2013.89,327.15,0.55),(2013.97,326.85,0),(2014.04,327.05,0),
           (2014.16,327.35,0),(2014.21,325.9,0.4),(2014.29,327.7,0),(2014.38,326.74,0),(2014.63,327.07,0),
           (2014.71,327.6,0),(2014.79,326.98,0.7),(2014.88,327.8,0.5),(2014.95,328.8,0.5),(2015.03,327.15,1.4),
           (2015.11,327.9,0.6),(2015.18,328.2,0.5),(2015.28,329.0,0.5),(2015.36,328.1,0),(2015.45,328.0,0),
           (2015.57,328.2,0),(2015.66,327.96,0.45),(2015.78,327.9,0),(2015.87,327.15,1.3),(2015.97,328.5,0.6),
           (2016.20,328.2,0),(2016.31,328.4,0),(2016.54,328.5,0.6)]
n2o_red_fit = [(2011.86,323.9),(2011.97,324.4),(2012.11,325.0),(2012.30,325.2),(2012.53,325.1),(2012.76,325.0),
               (2012.90,324.8),(2013.04,325.2),(2013.23,325.9),(2013.46,326.05),(2013.69,326.05),(2013.92,326.45),
               (2014.16,327.07),(2014.25,327.3),(2014.48,327.35),(2014.71,327.3),(2014.94,327.6),(2015.17,328.2),
               (2015.40,328.2),(2015.63,328.1),(2015.86,327.7),(2015.98,328.2),(2016.21,328.4),(2016.56,328.5)]

# ---------------- SF6 [ppt]
sf6_black = [(2012.29,7.649,0),(2012.38,7.603,0),(2012.54,7.482,0),(2012.62,7.386,0.13),(2012.72,7.251,0.21),
             (2012.80,7.298,0.14),(2012.87,7.237,0.09),(2013.63,7.790,0.12),(2013.79,7.847,0),(2013.96,7.812,0),
             (2014.28,8.093,0),(2014.45,8.225,0),(2014.54,8.123,0),(2014.78,8.461,0),(2014.95,8.205,0),
             (2015.28,8.477,0)]
sf6_black_fit = [(2012.29,7.31),(2012.38,7.377),(2012.47,7.404),(2012.59,7.386),(2012.70,7.325),(2012.82,7.281),
                 (2012.89,7.272),(2013.01,7.325),(2013.12,7.482),(2013.24,7.658),(2013.38,7.798),(2013.49,7.816),
                 (2013.61,7.78),(2013.73,7.728),(2013.82,7.71),(2013.93,7.746),(2014.05,7.868),(2014.15,7.991),
                 (2014.23,8.114),(2014.35,8.22),(2014.46,8.254),(2014.58,8.237),(2014.69,8.2),(2014.81,8.167),
                 (2014.92,8.175),(2015.04,8.272),(2015.13,8.43),(2015.22,8.535),(2015.28,8.57)]
sf6_purple = [(2011.81,7.20,0.07),(2011.87,7.237,0.05),(2011.95,7.128,0),(2012.12,7.228,0.05),(2012.38,7.56,0.06),
              (2012.47,7.532,0),(2012.62,7.451,0.12),(2012.72,7.312,0),(2012.80,7.412,0),(2012.87,7.339,0.04),
              (2013.29,7.904,0),(2013.55,8.023,0),(2013.63,7.816,0),(2013.96,7.795,0),(2014.21,8.228,0),
              (2014.28,8.132,0.1),(2014.38,8.093,0),(2014.54,8.263,0.03),(2014.62,7.997,0),(2014.78,8.135,0),
              (2014.95,8.284,0.05),(2015.03,8.325,0.05),(2015.18,8.416,0),(2015.87,8.263,0.06),(2016.08,8.477,0.05),
              (2016.42,8.772,0)]
sf6_purple_fit = [(2011.81,7.06),(2011.94,7.123),(2012.05,7.2),(2012.19,7.36),(2012.31,7.474),(2012.43,7.526),
                  (2012.52,7.518),(2012.63,7.456),(2012.75,7.368),(2012.84,7.346),(2012.96,7.395),(2013.08,7.553),
                  (2013.19,7.71),(2013.33,7.868),(2013.45,7.93),(2013.56,7.921),(2013.68,7.868),(2013.79,7.78),
                  (2013.91,7.75),(2014.03,7.85),(2014.11,7.97),(2014.23,8.13),(2014.35,8.22),(2014.46,8.254),
                  (2014.58,8.22),(2014.69,8.114),(2014.78,8.061),(2014.90,8.07),(2014.99,8.132),(2015.11,8.272),
                  (2015.22,8.386),(2015.32,8.465),(2015.38,8.518),(2015.48,8.5),(2015.59,8.412),(2015.71,8.307),
                  (2015.78,8.275),(2015.87,8.298),(2015.98,8.395),(2016.10,8.518),(2016.22,8.64),(2016.33,8.728),
                  (2016.42,8.763)]
sf6_blue = [(2011.81,7.363,0.085),(2011.87,7.368,0.05),(2011.95,7.20,0),(2012.02,7.30,0),(2012.12,7.363,0.145),
            (2012.21,7.54,0),(2012.29,7.514,0.04),(2012.54,7.56,0.06),(2012.72,7.45,0.15),(2012.80,7.47,0),
            (2012.98,7.632,0),(2013.06,7.404,0),(2013.14,7.65,0.16),(2013.21,8.021,0.075),(2013.29,8.044,0),
            (2013.38,8.01,0.1),(2013.46,8.082,0.1),(2013.55,7.982,0),(2013.63,8.021,0),(2013.70,7.886,0),
            (2013.74,7.90,0.03),(2013.79,7.775,0.04),(2013.89,7.97,0),(2013.96,7.904,0.16),(2014.04,8.012,0.11),
            (2014.15,8.22,0),(2014.21,8.075,0.1),(2014.28,8.20,0),(2014.38,8.245,0),(2014.45,8.30,0.075),
            (2014.54,8.386,0.03),(2014.62,8.196,0),(2014.78,8.184,0.175),(2014.88,8.118,0),(2014.95,8.242,0.08),
            (2015.03,8.286,0.22),(2015.28,8.609,0.03),(2015.35,8.575,0.13),(2015.57,8.57,0.1),(2015.78,8.425,0),
            (2015.87,8.386,0.21),(2016.08,8.526,0),(2016.20,8.79,0),(2016.31,8.868,0),(2016.42,8.854,0),
            (2016.54,9.0,0.08)]
sf6_blue_fit = [(2011.81,7.184),(2011.94,7.193),(2012.05,7.263),(2012.19,7.395),(2012.31,7.51),(2012.43,7.553),
                (2012.52,7.553),(2012.63,7.518),(2012.75,7.482),(2012.87,7.51),(2012.98,7.605),(2013.10,7.728),
                (2013.21,7.851),(2013.35,7.965),(2013.47,8.009),(2013.56,7.99),(2013.68,7.92),(2013.79,7.877),
                (2013.91,7.868),(2014.03,7.93),(2014.11,8.04),(2014.23,8.2),(2014.35,8.29),(2014.46,8.307),
                (2014.58,8.254),(2014.69,8.21),(2014.81,8.167),(2014.92,8.167),(2015.04,8.29),(2015.15,8.456),
                (2015.27,8.561),(2015.36,8.579),(2015.48,8.553),(2015.59,8.5),(2015.71,8.44),(2015.82,8.412),
                (2015.89,8.409),(2015.98,8.447),(2016.10,8.57),(2016.22,8.728),(2016.33,8.833),(2016.42,8.86),
                (2016.54,8.816)]
sf6_green = [(2011.81,7.386,0.14),(2011.87,7.31,0.06),(2011.95,7.232,0.03),(2012.02,7.36,0.08),(2012.12,7.36,0),
             (2012.21,7.623,0.1),(2012.29,7.56,0.045),(2012.38,7.61,0.09),(2012.47,7.825,0.03),(2012.54,7.72,0.055),
             (2012.62,7.816,0),(2012.72,7.295,0),(2012.80,7.65,0.17),(2012.87,7.43,0.09),(2012.98,7.693,0),
             (2013.06,7.697,0.24),(2013.14,7.854,0.145),(2013.21,7.82,0),(2013.29,8.118,0.11),(2013.38,7.953,0.09),
             (2013.46,8.044,0.11),(2013.55,8.093,0.055),(2013.63,7.895,0.08),(2013.70,8.049,0.17),(2013.74,7.974,0.17),
             (2013.79,8.023,0.16),(2013.96,8.093,0),(2014.15,8.342,0.25),(2014.28,8.216,0),(2014.38,8.304,0.14),
             (2014.45,8.453,0),(2014.62,8.426,0.13),(2014.71,8.35,0.16),(2014.78,8.474,0.12),(2014.88,8.172,0.115),
             (2014.95,8.20,0),(2015.03,8.64,0.37),(2015.11,8.386,0.12),(2015.18,8.60,0.06),(2015.28,8.863,0),
             (2015.35,8.742,0),(2015.45,8.872,0.11),(2015.57,8.544,0),(2015.66,8.64,0.05),(2015.78,8.465,0.06),
             (2015.87,8.386,0),(2015.97,8.50,0.03),(2016.08,8.584,0),(2016.20,8.83,0),(2016.31,9.114,0),
             (2016.42,9.053,0.11),(2016.54,8.995,0.03)]
sf6_green_fit = [(2011.81,7.325),(2011.89,7.254),(2011.98,7.263),(2012.08,7.36),(2012.19,7.57),(2012.31,7.667),
                 (2012.40,7.684),(2012.50,7.675),(2012.61,7.63),(2012.73,7.553),(2012.84,7.51),(2012.96,7.57),
                 (2013.08,7.71),(2013.19,7.833),(2013.33,7.974),(2013.45,8.061),(2013.56,8.07),(2013.68,8.053),
                 (2013.79,8.0),(2013.91,7.95),(2014.03,8.0),(2014.11,8.12),(2014.25,8.36),(2014.37,8.43),
                 (2014.46,8.456),(2014.55,8.43),(2014.67,8.377),(2014.78,8.316),(2014.88,8.28),(2014.97,8.307),
                 (2015.06,8.412),(2015.18,8.57),(2015.27,8.675),(2015.36,8.72),(2015.48,8.7),(2015.59,8.623),
                 (2015.71,8.535),(2015.82,8.49),(2015.89,8.482),(2015.98,8.518),(2016.08,8.623),(2016.19,8.78),
                 (2016.31,8.9),(2016.40,8.94),(2016.49,8.94),(2016.54,8.93)]
sf6_orange = [(2011.87,7.75,0.22),(2011.95,7.587,0.08),(2012.02,7.697,0.12),(2012.12,7.93,0),(2012.21,7.75,0.065),
              (2012.29,7.593,0),(2012.38,7.846,0),(2012.47,7.816,0.13),(2012.72,7.742,0),(2012.98,8.009,0.16),
              (2013.06,8.014,0.13),(2013.14,8.074,0.12),(2013.29,8.084,0.15),(2013.38,8.053,0),(2013.46,8.128,0.075),
              (2013.55,8.149,0.12),(2013.63,8.175,0.13),(2013.70,8.216,0.1),(2013.79,8.154,0.17),(2013.89,8.386,0.15),
              (2014.04,8.435,0.1),(2014.15,8.49,0.17),(2014.28,8.412,0.16),(2014.38,8.395,0),(2014.45,8.526,0.16),
              (2014.54,8.61,0.02),(2014.62,8.479,0),(2014.71,8.584,0),(2014.78,8.72,0.11),(2014.88,8.688,0.17),
              (2014.95,8.663,0),(2015.03,8.772,0.13),(2015.11,8.912,0.13),(2015.18,8.854,0.035),(2015.28,8.754,0.065),
              (2015.35,8.79,0),(2015.45,8.89,0.1),(2015.57,8.78,0.1),(2015.66,8.76,0.09),(2015.78,8.723,0.045),
              (2015.87,8.82,0.13),(2015.97,8.96,0.17),(2016.08,8.99,0.17),(2016.20,9.074,0),(2016.31,8.94,0.06),
              (2016.42,9.193,0.045),(2016.54,9.372,0.07)]
sf6_orange_fit = [(2011.87,7.675),(2011.96,7.65),(2012.05,7.693),(2012.19,7.728),(2012.31,7.71),(2012.45,7.71),
                  (2012.59,7.793),(2012.70,7.79),(2012.82,7.78),(2012.91,7.868),(2013.03,8.009),(2013.17,8.08),
                  (2013.31,8.08),(2013.42,8.082),(2013.54,8.13),(2013.66,8.149),(2013.77,8.149),(2013.89,8.29),
                  (2014.00,8.404),(2014.11,8.474),(2014.21,8.456),(2014.35,8.44),(2014.46,8.5),(2014.55,8.561),
                  (2014.67,8.553),(2014.76,8.57),(2014.85,8.64),(2014.97,8.746),(2015.08,8.8),(2015.20,8.807),
                  (2015.32,8.79),(2015.43,8.8),(2015.55,8.816),(2015.66,8.772),(2015.75,8.754),(2015.85,8.8),
                  (2015.96,8.94),(2016.08,9.026),(2016.19,9.009),(2016.31,8.982),(2016.42,9.035),(2016.54,9.088)]
sf6_red = [(2011.87,7.80,0),(2011.95,7.75,0.065),(2012.02,7.90,0),(2012.12,7.90,0),(2012.21,7.925,0.075),
           (2012.29,7.94,0.09),(2012.38,7.90,0.12),(2012.47,8.03,0.1),(2012.54,7.83,0),(2012.80,8.09,0.13),
           (2012.98,8.19,0.07),(2013.06,8.10,0),(2013.14,8.12,0),(2013.21,8.26,0.1),(2013.29,8.18,0),
           (2013.38,8.14,0),(2013.46,8.29,0.03),(2013.55,8.24,0),(2013.63,8.21,0),(2013.70,8.33,0.075),
           (2013.74,8.245,0),(2013.79,8.285,0),(2013.89,8.57,0.1),(2013.96,8.53,0.09),(2014.04,8.505,0.085),
           (2014.15,8.80,0.28),(2014.21,8.64,0.08),(2014.38,8.68,0.06),(2014.62,8.567,0.07),(2014.71,8.75,0.08),
           (2014.78,8.79,0.085),(2014.88,8.73,0),(2014.95,8.90,0.22),(2015.03,8.86,0.16),(2015.11,8.96,0.145),
           (2015.18,8.90,0.04),(2015.28,8.82,0),(2015.35,8.89,0.11),(2015.45,9.074,0.04),(2015.57,8.89,0.07),
           (2015.66,8.886,0.09),(2015.78,9.01,0.05),(2015.87,9.004,0.075),(2015.97,9.153,0.18),(2016.20,9.123,0.2),
           (2016.31,9.193,0.08),(2016.54,9.254,0.08)]
sf6_red_fit = [(2011.87,7.80),(2011.94,7.86),(2012.03,7.895),(2012.17,7.91),(2012.36,7.925),(2012.54,7.93),
               (2012.66,7.925),(2012.77,7.99),(2012.89,8.096),(2013.01,8.17),(2013.15,8.19),(2013.28,8.20),
               (2013.42,8.23),(2013.56,8.245),(2013.70,8.28),(2013.82,8.34),(2013.91,8.43),(2014.03,8.49),
               (2014.14,8.56),(2014.28,8.63),(2014.46,8.64),(2014.62,8.64),(2014.71,8.68),(2014.81,8.77),
               (2014.92,8.86),(2015.04,8.90),(2015.18,8.91),(2015.34,8.915),(2015.50,8.907),(2015.62,8.91),
               (2015.73,8.956),(2015.85,9.044),(2015.96,9.123),(2016.08,9.158),(2016.19,9.167),(2016.31,9.175),
               (2016.42,9.193),(2016.54,9.188)]

legend_labels = ['50K<ΔΘ', '37.5K<ΔΘ<50K', '25K<ΔΘ<37.5K', '12.5K<ΔΘ<25K', '0K<ΔΘ<12.5K', 'ΔΘ<0K']
year_ticks = [2012, 2013, 2014, 2015, 2016, 2017]
campaign_lines = [2012.5, 2013.5, 2014.5, 2015.5, 2016.5]

# ---------------- style
sns.set_theme(style='white')
plt.rcParams['font.family'] = ['Liberation Sans', 'DejaVu Sans']
plt.rcParams['mathtext.fontset'] = 'custom'
plt.rcParams['mathtext.rm'] = 'Liberation Sans'
plt.rcParams['mathtext.it'] = 'Liberation Sans'
plt.rcParams['mathtext.bf'] = 'Liberation Sans'

order = ['black', 'purple', 'blue', 'green', 'orange', 'red']
pt_col = {'black': '#000000', 'purple': '#8B22D8', 'blue': '#1F6FFF', 'green': '#137313',
          'orange': '#FF8C1F', 'red': '#FF0A0A'}
fit_col = {'black': '#303030', 'purple': '#A050E8', 'blue': '#3C84FF', 'green': '#2A8A2A',
           'orange': '#FF9B45', 'red': '#FF3A3A'}
legend_col = ['#000000', '#7030A0', '#0000FF', '#0D6A0D', '#FF6A00', '#FF0000']
gas_green = '#1E8A1E'

g = globals()
panels = [
    # prefix, rect, ylim, major, minor, ylabel, label, label x, label y, ylabel x, ylabel y, shown year labels
    ('co2', [119/1877, 1-551/1205, 798/1877, 531/1205], (384, 408), 4, 1, 'CO2 [ppm]',
     ' CO$_\\mathregular{2}$ ', 0.0764, 0.804, -0.0965, 0.476, 4),
    ('ch4', [1076/1877, 1-551/1205, 797/1877, 531/1205], (1600, 1950), 50, 10, 'CH4 [ppb]',
     ' CH$_\\mathregular{4}$ ', 0.725, 0.097, -0.098, 0.467, 6),
    ('n2o', [117/1877, 1-1163/1205, 798/1877, 532/1205], (274, 332), 10, 2, 'N2O [ppb]',
     ' N$_\\mathregular{2}$O  ', 0.704, 0.1165, -0.103, 0.481, 6),
    ('sf6', [1076/1877, 1-1163/1205, 797/1877, 532/1205], (7, 9.5), 0.5, 0.1, 'SF6 [ppt]',
     ' SF$_\\mathregular{6}$ ', 0.7315, 0.1165, -0.098, 0.48, 6),
]

fig = plt.figure(figsize=(18.77, 12.05), dpi=100)

for prefix, rect, ylim, major, minor, ylabel, gas, gx, gy, lx, ly, nlab in panels:
    ax = fig.add_axes(rect)
    for yr in campaign_lines:
        ax.axvline(yr, color='#5a5a5a', lw=1.3, zorder=1)

    # fitted curves
    for name in order:
        fit = g[prefix + '_' + name + '_fit']
        if fit:
            fdf = pd.DataFrame(fit, columns=['t', 'v'])
            sns.lineplot(data=fdf, x='t', y='v', ax=ax, color=fit_col[name], lw=0.9,
                         sort=False, estimator=None, zorder=2)

    # measurements with error bars
    for i, name in enumerate(order):
        df = pd.DataFrame(g[prefix + '_' + name], columns=['t', 'v', 'e'])
        eb = df[df.e > 0]
        ax.errorbar(eb.t, eb.v, yerr=eb.e, fmt='none', ecolor=pt_col[name], elinewidth=2.2,
                    capsize=3.5, capthick=2, zorder=3 + i * 0.1)
        sns.scatterplot(data=df, x='t', y='v', ax=ax, color=pt_col[name], s=45,
                        edgecolor='none', linewidth=0, zorder=3.05 + i * 0.1, legend=False)

    ax.set_xlim(2011.49, 2017.05)
    ax.set_ylim(*ylim)
    labels = [str(y) if k < nlab else '' for k, y in enumerate(year_ticks)]
    ax.set_xticks(year_ticks, labels=labels)
    ax.get_xticklabels()[-1].set_horizontalalignment('right')
    ax.xaxis.set_minor_locator(MultipleLocator(1 / 12))
    ax.yaxis.set_major_locator(MultipleLocator(major))
    ax.yaxis.set_minor_locator(MultipleLocator(minor))
    ax.yaxis.set_major_formatter(FuncFormatter(lambda v, p: '{:g}'.format(round(v, 3))))
    ax.tick_params(which='both', direction='in', top=True, right=True, color='#404040', width=1)
    ax.tick_params(axis='x', which='both', length=5, labelsize=18, pad=9)
    ax.tick_params(axis='y', which='major', length=7, labelsize=18, pad=10)
    ax.tick_params(axis='y', which='minor', length=4)
    for s in ax.spines.values():
        s.set_color('#404040')
        s.set_linewidth(1.3)
    ax.set_xlabel('')
    ax.set_ylabel(ylabel, fontsize=19)
    ax.yaxis.set_label_coords(lx, ly)

    ax.text(gx, gy, gas, transform=ax.transAxes, fontsize=46, color=gas_green,
            ha='left', va='baseline', zorder=2.5,
            bbox=dict(facecolor='white', edgecolor='none', pad=8))

# white block behind the class labels (covers part of the CO2 panel)
fig.patches.append(Rectangle((657/1877, 1-612/1205), (925-657)/1877, (612-325)/1205,
                             transform=fig.transFigure, facecolor='white', edgecolor='none', zorder=1))
for k, (txt, col) in enumerate(zip(legend_labels, legend_col)):
    fig.text(670/1877, 1 - (365 + 45.2*k)/1205, txt, color=col, fontsize=32,
             ha='left', va='center', zorder=3)

fig.savefig('out.png', dpi=100)
